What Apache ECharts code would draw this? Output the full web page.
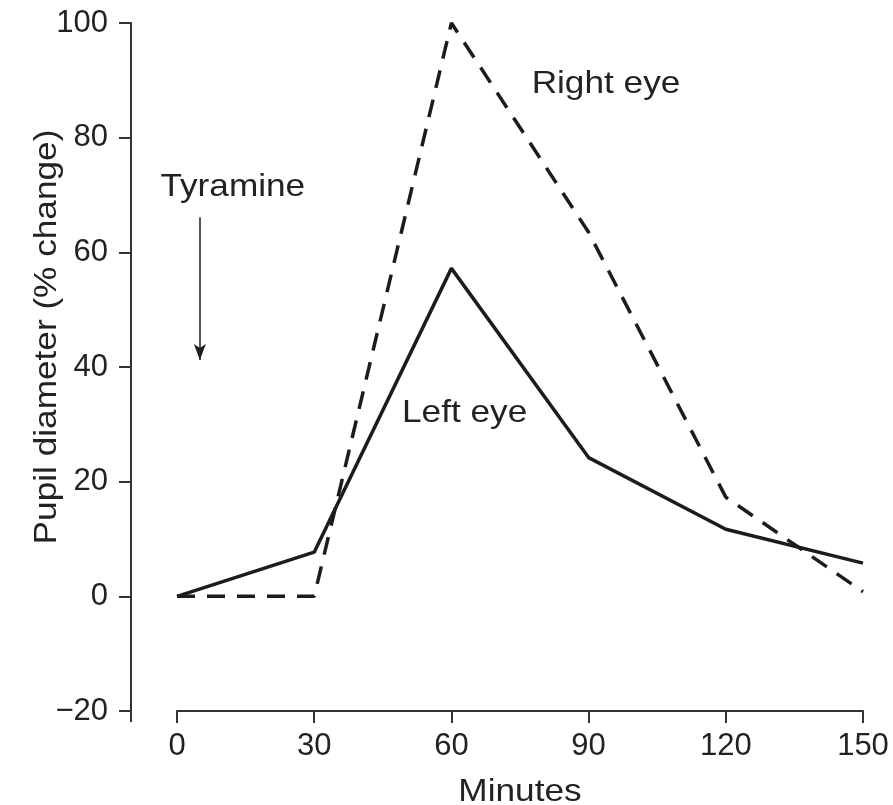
<!DOCTYPE html>
<html>
<head>
<meta charset="utf-8">
<script src="https://cdn.jsdelivr.net/npm/echarts@6/dist/echarts.min.js"></script>
<style>html,body{margin:0;padding:0;background:#fff}#c{width:893px;height:805px}</style>
</head>
<body>
<div id="c"></div>
<script>
const minutes = [0, 30, 60, 90, 120, 150];
const leftEye = [0, 7.7, 57.2, 24.2, 11.7, 5.8];
const rightEye = [0, 0, 100, 63.5, 17.3, 0.8];
const yTicks = {min: -20, max: 100, step: 20};
const xTicks = {min: 0, max: 150, step: 30};
const labels = [
  {text: 'Right eye', x: 93.8, y: 89.4},
  {text: 'Tyramine', x: 12.2, y: 71.4},
  {text: 'Left eye', x: 62.9, y: 32.0}
];
const arrow = {x: 5, from: 66.1, to: 41.2};
const xName = 'Minutes';
const yName = 'Pupil diameter (% change)';

const FONT = '"Liberation Sans", Arial, sans-serif';
const INK = '#1c1c1c';
const TXT = '#222';
const AX = '#333';
const chart = echarts.init(document.getElementById('c'), null, {renderer: 'canvas'});
const pair = (xs, ys) => xs.map((x, i) => [x, ys[i]]);

chart.setOption({
  animation: false,
  backgroundColor: '#fff',
  grid: {left: 177, right: 30, top: 23, bottom: 94},
  xAxis: {
    type: 'value', min: xTicks.min, max: xTicks.max, interval: xTicks.step,
    axisLine: {show: true, onZero: false, lineStyle: {color: AX, width: 2}},
    axisTick: {show: true, length: 12, lineStyle: {color: AX, width: 2}},
    axisLabel: {fontFamily: FONT, fontSize: 31, color: TXT, margin: 20},
    splitLine: {show: false}
  },
  yAxis: {
    type: 'value', min: yTicks.min, max: yTicks.max, interval: yTicks.step,
    offset: 46,
    axisLine: {show: true, onZero: false, lineStyle: {color: AX, width: 2}},
    axisTick: {show: true, length: 12, lineStyle: {color: AX, width: 2}},
    axisLabel: {fontFamily: FONT, fontSize: 31, color: TXT, margin: 23,
      formatter: v => v < 0 ? '\u2212' + Math.abs(v) : String(v)},
    splitLine: {show: false}
  },
  series: [
    {
      name: 'Left eye', type: 'line', data: pair(minutes, leftEye),
      symbol: 'none', lineStyle: {color: INK, width: 3.5}
    },
    {
      name: 'Right eye', type: 'line', data: pair(minutes, rightEye),
      symbol: 'none', lineStyle: {color: INK, width: 3.5, type: [18, 12]},
      markLine: {
        silent: true, symbol: ['none', 'arrow'], symbolSize: [9, 16],
        label: {show: false},
        lineStyle: {color: INK, width: 1.5, type: 'solid'},
        data: [[{coord: [arrow.x, arrow.from]}, {coord: [arrow.x, arrow.to]}]]
      }
    }
  ]
});

const wordStyle = t => ({text: t, fontFamily: FONT, fontSize: 32, fill: TXT, align: 'center', verticalAlign: 'middle'});
const g = labels.map(l => {
  const p = chart.convertToPixel({gridIndex: 0}, [l.x, l.y]);
  return {type: 'text', x: p[0], y: p[1], scaleX: 1.1, style: wordStyle(l.text)};
});
const bottomLeft = chart.convertToPixel({gridIndex: 0}, [xTicks.min, yTicks.min]);
const mid = chart.convertToPixel({gridIndex: 0}, [(xTicks.min + xTicks.max) / 2, yTicks.min]);
g.push({type: 'text', x: mid[0], y: mid[1] + 81, scaleX: 1.1, style: wordStyle(xName)});
g.push({type: 'text', x: 47, y: 337, rotation: Math.PI / 2, scaleX: 1.1, style: wordStyle(yName)});
// small overhang of the y axis line below its last tick, as in the original
g.push({type: 'line', shape: {x1: bottomLeft[0] - 46, y1: bottomLeft[1], x2: bottomLeft[0] - 46, y2: bottomLeft[1] + 11},
  style: {stroke: AX, lineWidth: 2}});
chart.setOption({graphic: g});
</script>
</body>
</html>
